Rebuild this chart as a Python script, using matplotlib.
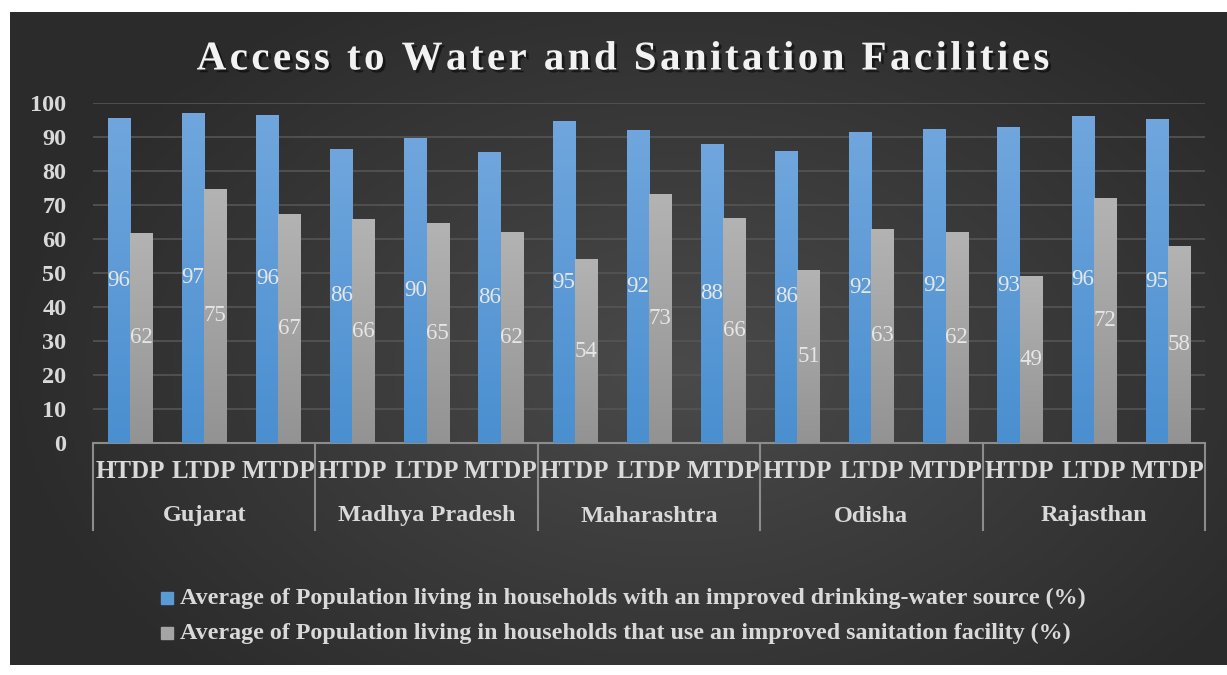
import numpy as np
import matplotlib
matplotlib.use('Agg')
import matplotlib.pyplot as plt
import matplotlib.patheffects as pe
from matplotlib.colors import LinearSegmentedColormap

# Data
states = ['Gujarat', 'Madhya Pradesh', 'Maharashtra', 'Odisha', 'Rajasthan']
types = ['HTDP', 'LTDP', 'MTDP']
water = [95.6, 97.1, 96.5,
         86.5, 89.6, 85.6,
         94.6, 92.2, 87.8,
         85.9, 91.6, 92.4,
         92.8, 96.3, 95.2]
sanitation = [61.8, 74.8, 67.4,
              65.8, 64.6, 62.1,
              54.1, 73.1, 66.3,
              50.8, 63.0, 62.2,
              49.1, 72.0, 57.8]
water_label = 'Average of Population living in households with an improved drinking-water source (%)'
sanit_label = 'Average of Population living in households that use an improved sanitation facility (%)'
title = 'Access to Water and Sanitation Facilities'

plt.rcParams['font.family'] = ['Liberation Serif', 'DejaVu Serif']
txt_col = '#d9d9d9'

W, H = 1227, 675
fig = plt.figure(figsize=(W / 100, H / 100), dpi=100)
fig.patch.set_facecolor('white')

# dark radial background panel
bg = fig.add_axes([10 / W, 1 - 665 / H, 1 - 10 / W, (665 - 12) / H])
bg.set_axis_off()
yy, xx = np.mgrid[0:1:300j, 0:1:500j]
r = np.sqrt(((xx - 0.55) / 0.75) ** 2 + ((yy - 0.55) / 0.9) ** 2)
bg_cmap = LinearSegmentedColormap.from_list('bg', ['#4a4a4a', '#2b2b2b'])
bg.imshow(r, cmap=bg_cmap, aspect='auto', extent=[0, 1, 0, 1], vmin=0, vmax=0.75)
bg.set_xlim(0, 1)
bg.set_ylim(0, 1)

ax = fig.add_axes([93 / W, 1 - 443 / H, (1205 - 93) / W, (443 - 103) / H])
ax.patch.set_alpha(0)

n = len(water)
x = np.arange(n)
w = 0.3
blue_bars = ax.bar(x - w / 2, water, w, color='#5b9bd5', zorder=3)
gray_bars = ax.bar(x + w / 2, sanitation, w, color='#a5a5a5', zorder=3)

# vertical gradient fill on the bars
grad = np.linspace(0, 1, 100).reshape(-1, 1)
blue_cmap = LinearSegmentedColormap.from_list('b', ['#4a8fd0', '#70a6dd'])
gray_cmap = LinearSegmentedColormap.from_list('g', ['#939393', '#b3b3b3'])
for bars, cmap in [(blue_bars, blue_cmap), (gray_bars, gray_cmap)]:
    for b in bars:
        bx, by = b.get_x(), b.get_y()
        bw, bh = b.get_width(), b.get_height()
        im = ax.imshow(grad, cmap=cmap, aspect='auto', origin='lower',
                       extent=[bx, bx + bw, by, by + bh], zorder=3.5)
        im.set_clip_path(b)

# data labels in the middle of each bar
for xi, v in zip(x - w / 2, water):
    ax.text(xi, v / 2, f'{v:.0f}', ha='center', va='center', fontsize=16.5,
            color='#e6e6e6', zorder=5)
for xi, v in zip(x + w / 2, sanitation):
    ax.text(xi, v / 2, f'{v:.0f}', ha='center', va='center', fontsize=16.5,
            color='#e6e6e6', zorder=5)

ax.set_xlim(-0.5, n - 0.5)
ax.set_ylim(0, 100)
ax.set_yticks(range(0, 101, 10))
ax.yaxis.grid(True, color='#555555', linewidth=1.2, zorder=0)
ax.tick_params(axis='y', length=0, pad=19, labelsize=17.5, labelcolor=txt_col)
for lab in ax.get_yticklabels():
    lab.set_fontweight('bold')
ax.set_xticks([])
for s in ['top', 'right', 'left']:
    ax.spines[s].set_visible(False)
ax.spines['bottom'].set_color('#8c8c8c')
ax.spines['bottom'].set_linewidth(1.5)

# two-level category axis
tr = ax.get_xaxis_transform()
sub_labels = [t for _ in states for t in types]
for xi, lab in zip(x, sub_labels):
    ax.text(xi, -28 / 340, lab, transform=tr, ha='center', va='center',
            fontsize=18, fontweight='bold', color=txt_col, clip_on=False)
for gi, st in enumerate(states):
    ax.text(gi * 3 + 1, -73 / 340, st, transform=tr, ha='center', va='center',
            fontsize=17.5, fontweight='bold', color=txt_col, clip_on=False)
for gi in range(len(states) + 1):
    ax.plot([gi * 3 - 0.5] * 2, [0, -87 / 340], transform=tr, color='#8c8c8c',
            linewidth=1.5, clip_on=False)

# title, spaced out a little like the original
fig.text(0.507, 1 - 60 / H, '\u200a'.join(title),
         ha='center', va='center', fontsize=29.5, fontweight='bold',
         color='#f2f2f2',
         path_effects=[pe.withSimplePatchShadow(offset=(2, -2), shadow_rgbFace='black', alpha=0.5)])

# legend
for i, (lab, c) in enumerate([(water_label, '#5b9bd5'), (sanit_label, '#a5a5a5')]):
    yfig = 1 - (598 + 35 * i) / H
    fig.patches.append(plt.Rectangle((161 / W, yfig - 6 / H), 12 / W, 12 / H,
                                     transform=fig.transFigure, color=c, figure=fig))
    fig.text(180 / W, yfig, lab, ha='left', va='center', fontsize=17.3,
             fontweight='bold', color=txt_col)

fig.savefig('out.png', dpi=100, facecolor=fig.get_facecolor())
